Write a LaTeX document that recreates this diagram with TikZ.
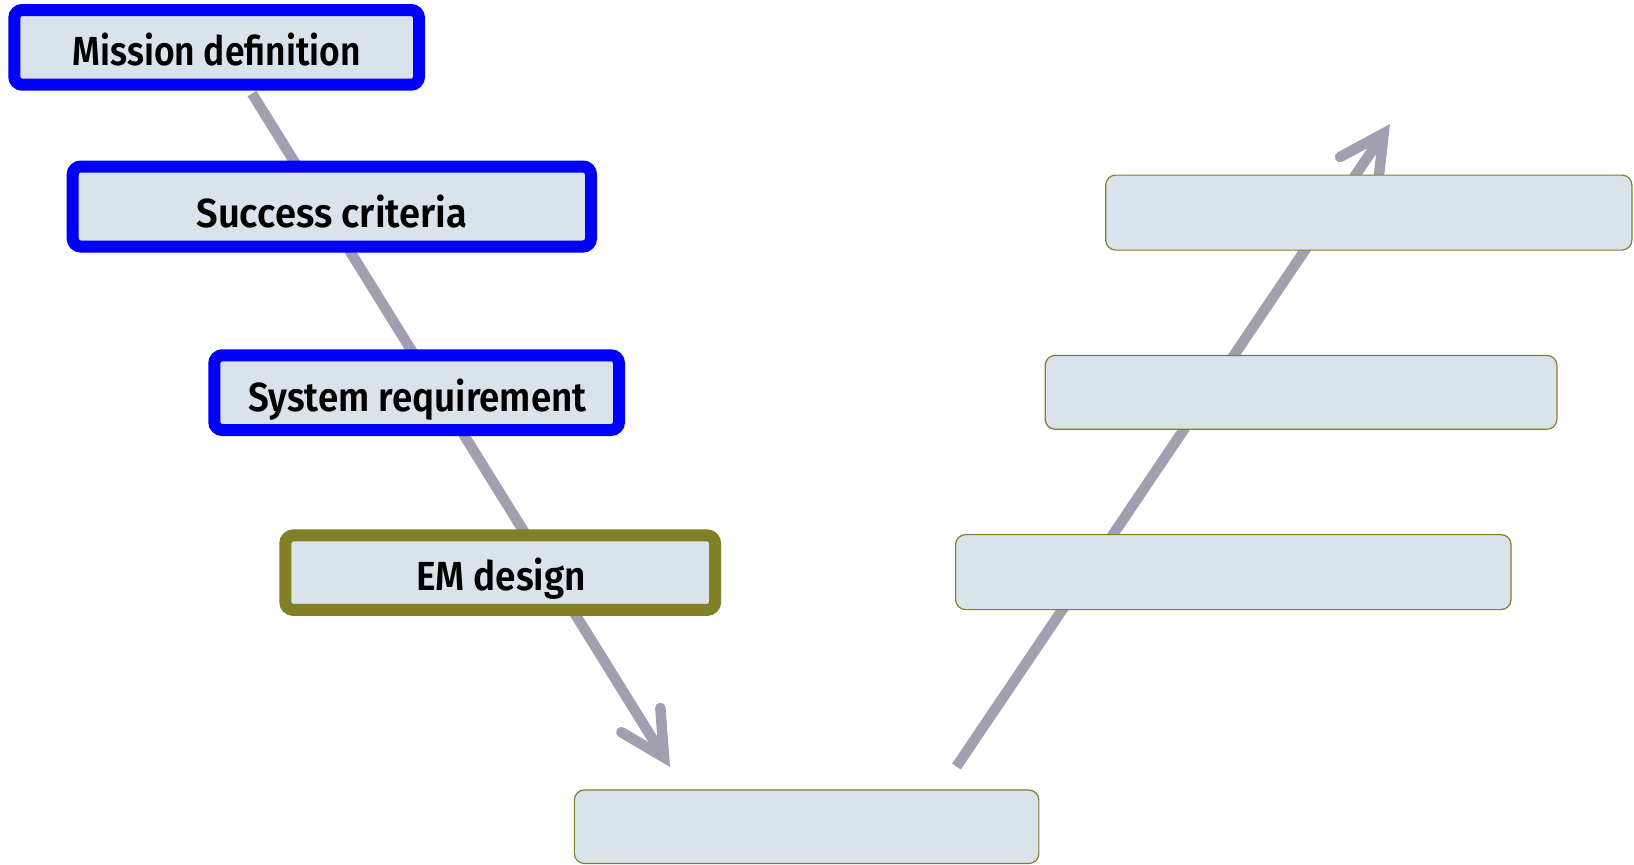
\documentclass[tikz,border=0pt]{standalone}
\usepackage{fontspec}
\usepackage{graphicx}
\setmainfont{Fira Sans}[BoldFont={* SemiBold}]
\usetikzlibrary{arrows.meta}

\definecolor{boxfill}{RGB}{218,227,236}
\definecolor{flowgray}{RGB}{160,160,176}
\definecolor{emolive}{RGB}{128,128,38}
\definecolor{planblue}{RGB}{0,0,255}

% set a label to a given width, keeping its natural height
\newcommand\fitw[2]{\resizebox{#1}{\height}{#2}}

\begin{document}
\begin{tikzpicture}[x=1pt,y=-1pt,
  flow/.style={draw=flowgray, line width=10.5pt, line cap=butt,
    -{Straight Barb[length=44pt,width=46pt,line cap=round,line join=miter]}},
  heavybox/.style={rectangle, line width=12pt, rounded corners=8pt,
    fill=boxfill, inner sep=0pt, outer sep=0pt},
  plainbox/.style={rectangle, draw=emolive, line width=1.2pt, rounded corners=10pt,
    fill=boxfill, inner sep=0pt, outer sep=0pt},
  lbl/.style={inner sep=0pt, anchor=base,
    font=\bfseries\fontsize{40.6}{48}\selectfont}]

\useasboundingbox (0,0) rectangle (1634,865);

% the two legs of the V
\coordinate (ls) at (252,93.5);
\coordinate (lt) at (670,767);
\coordinate (rs) at (956.5,766.5);
\coordinate (rt) at (1390,124);
\draw[flow] (ls) -- (lt);
\draw[flow] (rs) -- (rt);

% left leg: definition steps
\node[heavybox, draw=planblue, minimum width=404.7pt, minimum height=74.7pt]
  (mission) at (216.65,47.35) {};
\node[heavybox, draw=planblue, minimum width=518.3pt, minimum height=80pt]
  (success) at (331.85,206.5) {};
\node[heavybox, draw=planblue, minimum width=404.7pt, minimum height=74.7pt]
  (sysreq) at (416.65,392.65) {};
\node[heavybox, draw=emolive, minimum width=429.8pt, minimum height=74.5pt]
  (emdesign) at (500.2,572.65) {};

\node[lbl] (missiontxt) at (216.7,65) {\fitw{288pt}{Mission definition}};
\node[lbl] (successtxt) at (332,227.5) {\fitw{271pt}{Success criteria}};
\node[lbl] (sysreqtxt) at (417.5,411) {\fitw{338.5pt}{System requirement}};
\node[lbl] (emtxt) at (501,590) {\fitw{170pt}{EM design}};

% bottom and right leg: empty steps
\node[plainbox, minimum width=464.5pt, minimum height=73.5pt]
  (bottom) at (806.6,826.75) {};
\node[plainbox, minimum width=555.4pt, minimum height=75pt]
  (right1) at (1233.3,572.1) {};
\node[plainbox, minimum width=511.7pt, minimum height=73.9pt]
  (right2) at (1301.05,392.35) {};
\node[plainbox, minimum width=526.2pt, minimum height=75pt]
  (right3) at (1368.8,212.6) {};
\end{tikzpicture}
\end{document}
